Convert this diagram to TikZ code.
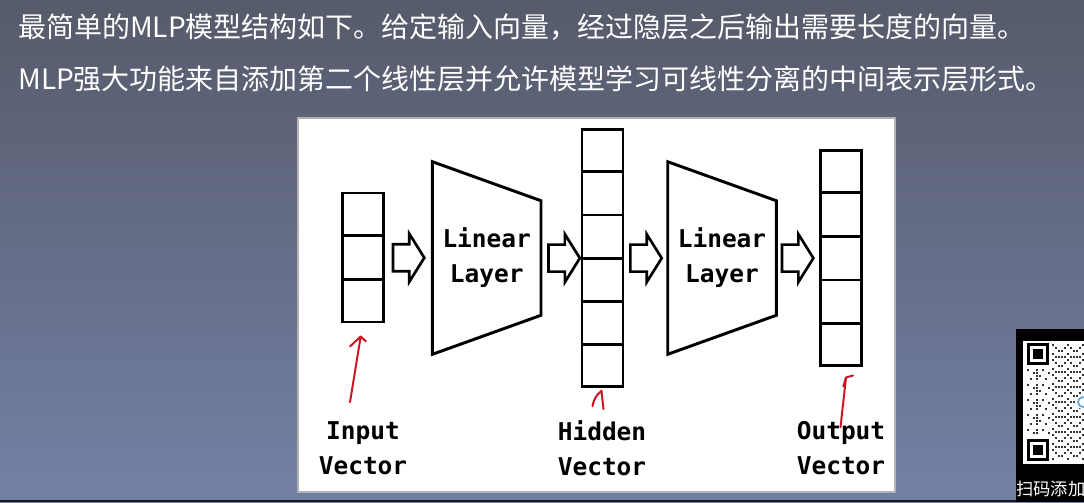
\documentclass[tikz,border=0pt]{standalone}
\usepackage{fontspec}
\usetikzlibrary{calc,positioning}
\newfontfamily\cjk{Noto Sans CJK SC}
\newfontfamily\monofont{DejaVu Sans Mono}
\newcommand{\pxu}{0.025cm}
\definecolor{slidetop}{RGB}{86,91,106}
\definecolor{slidebot}{RGB}{116,128,166}
\definecolor{penred}{RGB}{205,18,32}
\definecolor{qrblue}{RGB}{90,170,235}
\tikzset{
  vec/.style={draw,line width=2.1pt,minimum width=41*\pxu,inner sep=0pt},
  lay/.style={inner sep=0pt,minimum width=108*\pxu,minimum height=192*\pxu,align=center,
    font=\monofont\bfseries\fontsize{17.4}{24.9}\selectfont},
  lbl/.style={inner sep=0pt,align=center,font=\monofont\bfseries\fontsize{17.4}{24.9}\selectfont},
  scribble/.style={penred,line width=1.4pt,line cap=round,line join=round},
  blockarrow/.pic={
    \draw[line width=1.9pt,line join=miter,fill=white]
      (-15.7,-13.5) -- (0.6,-13.5) -- (0.6,-24) -- (15.6,0) -- (0.6,24) -- (0.6,13.5) -- (-15.7,13.5) -- cycle;
  }
}

\begin{document}
\begin{tikzpicture}[x=0.025cm,y=-0.025cm]
  \useasboundingbox (0,0) rectangle (1084,502);
  \clip (0,0) rectangle (1084,502);
  % slide background
  \shade[top color=slidetop,bottom color=slidebot] (0,0) rectangle (1084,502);
  \fill[black!90] (0,500) rectangle (1084,502);

  % heading
  \node[anchor=west,inner sep=0pt,text=white,font=\cjk\fontsize{19.9}{24}\selectfont] (line1) at (18,27)
    {最简单的MLP模型结构如下。给定输入向量，经过隐层之后输出需要长度的向量。};
  \node[anchor=west,inner sep=0pt,text=white,font=\cjk\fontsize{19.9}{24}\selectfont] (line2) at (18,79)
    {MLP强大功能来自添加第二个线性层并允许模型学习可线性分离的中间表示层形式。};

  % figure panel
  \fill[white,draw=gray!60,line width=0.8pt] (298,118) rectangle (895,492);

  % vectors
  \node[vec,minimum height=129*\pxu] (inp) at (363,257.5) {};
  \node[vec,minimum height=257*\pxu] (hid) at (602.5,258.3) {};
  \node[vec,minimum height=215*\pxu] (outp) at (841.2,258.2) {};
  \foreach \v/\n in {inp/3,hid/6,outp/5} {
    \pgfmathtruncatemacro\last{\n-1}
    \foreach \k in {1,...,\last}
      \draw[line width=2.1pt] ($(\v.north west)!\k/\n!(\v.south west)$) -- ($(\v.north east)!\k/\n!(\v.south east)$);
  }

  % linear layers
  \node[lay] (lin1) at (486.7,258) {Linear\\Layer};
  \node[lay] (lin2) at (722,258) {Linear\\Layer};
  \foreach \l in {lin1,lin2}
    \draw[line width=2.1pt,line join=miter] (\l.north west) -- ($(\l.north east)+(0,39)$)
      -- ($(\l.south east)+(0,-39)$) -- (\l.south west) -- cycle;

  % block arrows
  \path (inp.east) -- coordinate[midway] (a1) (lin1.west);
  \path (lin1.east) -- coordinate[midway] (a2) (hid.west);
  \path (hid.east) -- coordinate[midway] (a3) (lin2.west);
  \path (lin2.east) -- coordinate[midway] (a4) (outp.west);
  \pic at (a1) {blockarrow};
  \pic at ($(a2)+(3.5,0)$) {blockarrow};
  \pic at (a3) {blockarrow};
  \pic at (a4) {blockarrow};

  % labels
  \node[lbl] (inlab) at (363,448) {Input\\Vector};
  \node[lbl] (hidlab) at (602,448) {Hidden\\Vector};
  \node[lbl] (outlab) at (841,448) {Output\\Vector};

  % red pen marks
  \draw[scribble] ($(inlab.north)+(-13,-19)$) -- ($(inp.south)+(-2.3,13)$) coordinate (t1);
  \draw[scribble] ($(t1)+(-10.7,10)$) -- (t1) -- ($(t1)+(5.3,5)$);
  \draw[scribble] ($(hidlab.north)+(-9.5,-14)$) to[bend left=20] ($(hid.south)+(-1,2.5)$) coordinate (t2)
    -- ($(hidlab.north)+(1.5,-11)$);
  \draw[scribble] ($(outlab.north)+(-0.5,6.3)$) -- ($(outp.south)+(4.8,10.3)$) coordinate (t3);
  \draw[scribble] ($(t3)+(-2.7,9)$) -- (t3) -- ($(t3)+(7,-2)$);

  % qr corner
  \fill[black] (1016,329) rectangle (1084,502);
  \fill[white] (1022.7,340.7) rectangle (1084,464);
  \foreach \fy in {343,439} {
    \fill[black] (1027,\fy) rectangle (1049,\fy+22);
    \fill[white] (1030,\fy+3) rectangle (1046,\fy+19);
    \fill[black] (1033,\fy+6) rectangle (1043,\fy+16);
  }
  \foreach \i in {0,...,10}
    \foreach \j in {0,...,38} {
      \pgfmathtruncatemacro\on{mod(\i*\i*3+\j*7+\i*\j*5,5)<2 ? 1 : 0}
      \ifnum\on=1
        \fill[black!80] (1052+\i*3,344+\j*3) rectangle +(2.2,2.2);
      \fi
    }
  \foreach \i in {0,...,7}
    \foreach \j in {0,...,21} {
      \pgfmathtruncatemacro\on{mod(\i*7+\j*\j*3+\i*\j*2,5)<2 ? 1 : 0}
      \ifnum\on=1
        \fill[black!80] (1027+\i*3,369+\j*3) rectangle +(2.2,2.2);
      \fi
    }
  \fill[white] (1083,402) circle (7);
  \draw[qrblue,line width=1.2pt] (1083,402) circle (5);
  \node[anchor=west,inner sep=0pt,text=white,font=\cjk\fontsize{12.3}{14}\selectfont] (qrtext) at (1016,489)
    {扫码添加};
\end{tikzpicture}
\end{document}
